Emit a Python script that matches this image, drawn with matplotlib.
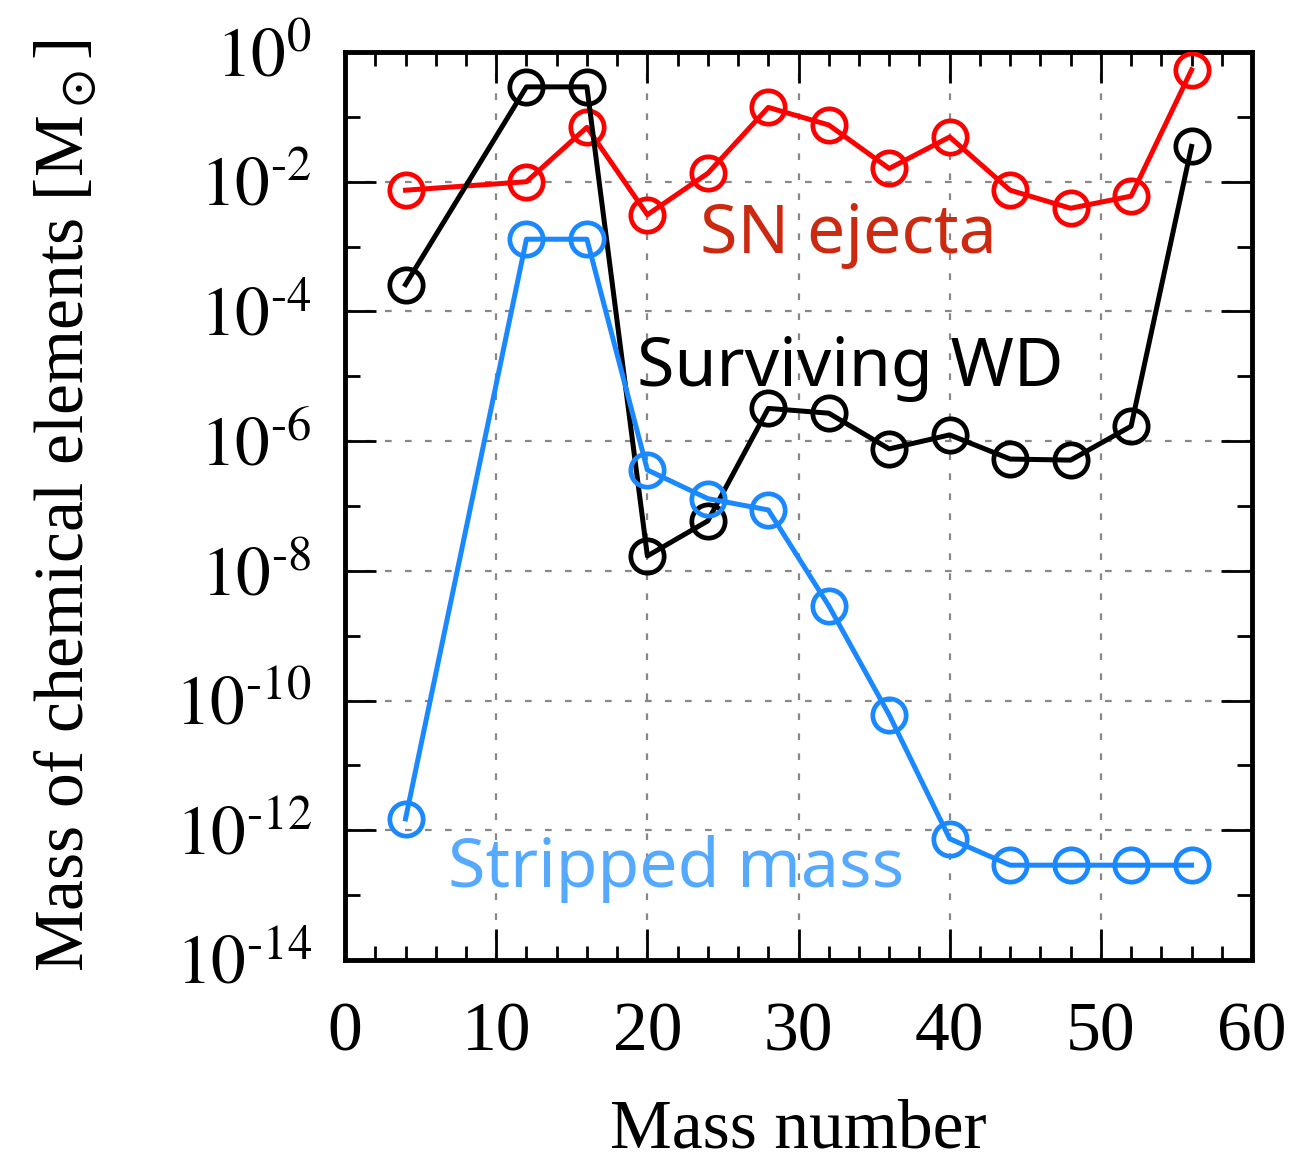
import numpy as np
import matplotlib.pyplot as plt
from matplotlib.ticker import MultipleLocator, NullFormatter, FixedLocator

plt.rcParams['mathtext.fontset'] = 'stix'
plt.rcParams['font.family'] = 'Liberation Serif'

# mass numbers
A = [4, 12, 16, 20, 24, 28, 32, 36, 40, 44, 48, 52, 56]
# SN ejecta
sn_ejecta = [7.4e-3, 1.0e-2, 6.9e-2, 3.1e-3, 1.35e-2, 0.14, 0.075, 0.016, 0.049,
             7.4e-3, 3.9e-3, 6.0e-3, 0.53]
# surviving WD
surv_wd = [2.6e-4, 0.29, 0.29, 1.7e-8, 5.9e-8, 3.2e-6, 2.7e-6, 7.6e-7, 1.25e-6,
           5.3e-7, 5.1e-7, 1.7e-6, 0.035]
# stripped mass
stripped = [1.5e-12, 1.3e-3, 1.3e-3, 3.6e-7, 1.3e-7, 8.7e-8, 2.9e-9, 6.0e-11,
            7.4e-13, 2.9e-13, 2.9e-13, 2.9e-13, 2.9e-13]
exps = list(range(-14, 1, 2))

fig = plt.figure(figsize=(13.05, 11.61), dpi=100)
ax = fig.add_axes([0.2644, 0.1731, 0.695, 0.7821])

style = dict(marker='o', markersize=24, markerfacecolor='none', markeredgewidth=3.4, linewidth=3.6)
ax.plot(A, sn_ejecta, color='#ff0000', **style, zorder=3)
ax.plot(A, surv_wd, color='black', **style, zorder=4)
ax.plot(A, stripped, color='#1a88ff', **style, zorder=5)

ax.set_yscale('log')
ax.set_xlim(0, 60)
ax.set_ylim(1e-14, 1)

# ticks
ax.xaxis.set_major_locator(MultipleLocator(10))
ax.xaxis.set_minor_locator(MultipleLocator(2))
ax.yaxis.set_major_locator(FixedLocator([10.0**k for k in exps]))
ax.yaxis.set_minor_locator(FixedLocator([10.0**k for k in range(-13, 0, 2)]))
ax.yaxis.set_minor_formatter(NullFormatter())
ax.set_yticklabels([r'$10^{%d}$' % k if k == 0 else r'$10^{\text{-}%d}$' % (-k) for k in exps])
ax.tick_params(which='both', direction='in', top=True, right=True, width=2, labelsize=50)
ax.tick_params(which='major', length=22)
ax.tick_params(axis='x', which='major', pad=30)
ax.tick_params(axis='y', which='major', pad=24)
ax.tick_params(which='minor', length=10)
ax.tick_params(axis='y', which='minor', length=11)

for s in ax.spines.values():
    s.set_linewidth(3.5)

ax.grid(True, which='major', color='#888888', linestyle=(0, (3, 6)), lw=1.6)

ax.set_xlabel('Mass number', fontsize=50, labelpad=24)
ax.set_ylabel(r'Mass of chemical elements [M$_\odot$]', fontsize=50, labelpad=55)

# series labels
ax.text(33.3, 10**-2.82, 'SN ejecta', color='#cc2a10', fontsize=49,
        family='Noto Sans', ha='center', va='center')
ax.text(33.4, 10**-4.87, 'Surviving WD', color='black', fontsize=49,
        family='Noto Sans', ha='center', va='center')
ax.text(21.9, 10**-12.6, 'Stripped mass', color='#55aaff', fontsize=49,
        family='Noto Sans', ha='center', va='center')

fig.savefig('out.png', dpi=100)
